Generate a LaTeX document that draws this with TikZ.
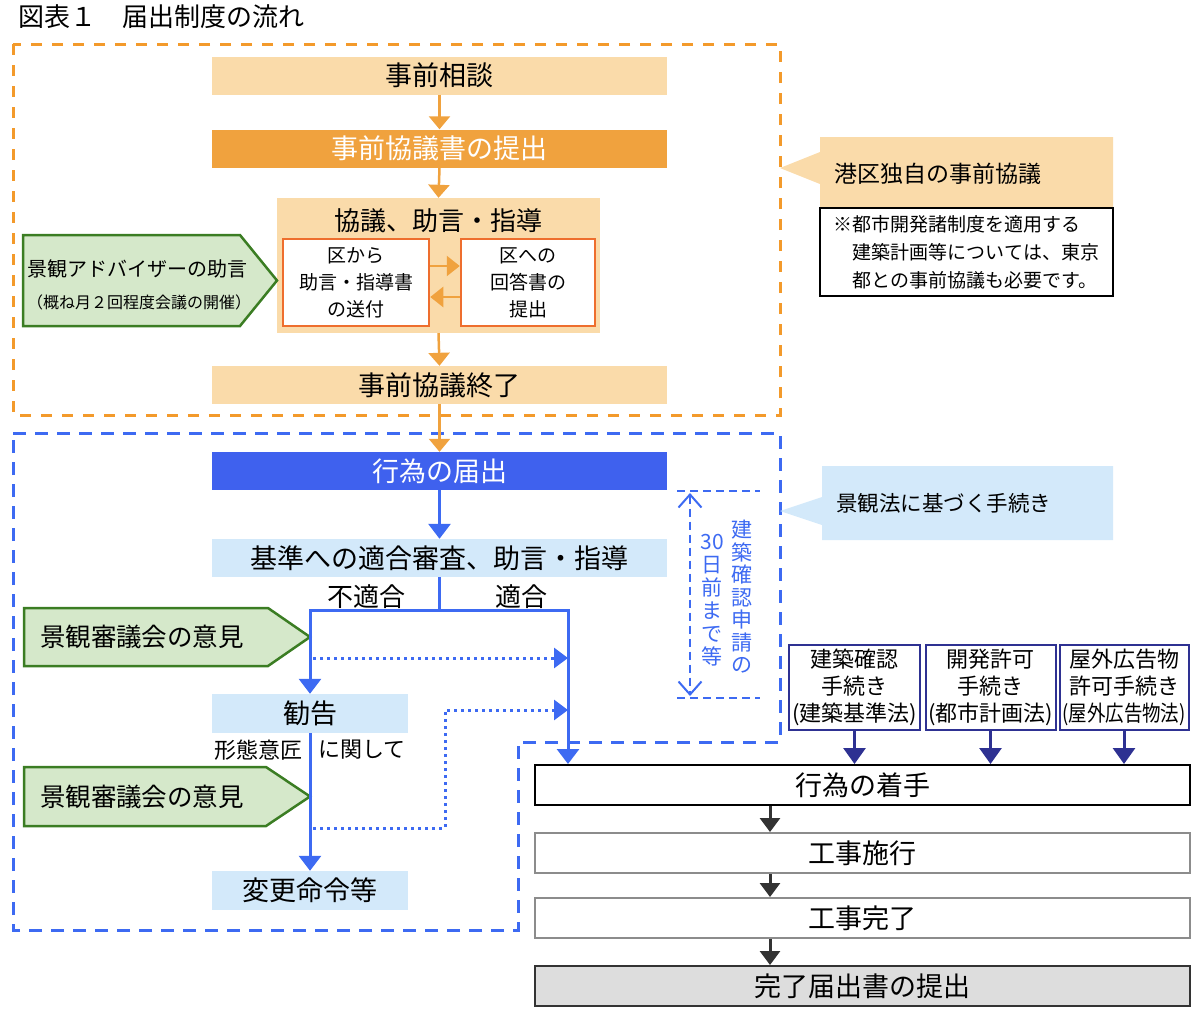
\documentclass[tikz,border=0pt]{standalone}
\usepackage{fontspec}
\setmainfont{Noto Sans CJK JP}
\usetikzlibrary{arrows.meta}
\definecolor{odash}{HTML}{F39A2B}
\definecolor{olight}{HTML}{FADBAA}
\definecolor{omid}{HTML}{F0A23E}
\definecolor{oborder}{HTML}{EE6E2E}
\definecolor{gfill}{HTML}{D5E8CA}
\definecolor{gline}{HTML}{3B7D23}
\definecolor{bline}{HTML}{3D6AF2}
\definecolor{bfill}{HTML}{3F61EE}
\definecolor{blight}{HTML}{D3E9FA}
\definecolor{navy}{HTML}{2E3192}
\definecolor{darkar}{HTML}{333333}
\definecolor{graybd}{HTML}{8C8C8C}
\definecolor{grayfill}{HTML}{DDDDDD}
\newcommand\fsz[2]{\fontsize{#1}{#2}\selectfont}
\begin{document}
\begin{tikzpicture}[x=1pt,y=-1pt,
  box/.style={inner sep=0pt, align=center, anchor=center},
  widebox/.style={box, minimum width=455pt, minimum height=38pt, font=\fsz{27}{31}},
  flowbox/.style={box, minimum width=655pt, minimum height=40pt, line width=2pt, fill=white, font=\fsz{27}{31}},
  navybox/.style={box, draw=navy, line width=2pt, fill=white, minimum height=85pt, font=\fsz{22}{27}},
  innerbox/.style={box, fill=white, draw=oborder, line width=2.5pt, minimum height=87pt, font=\fsz{19}{27}},
  oarr/.style={draw=omid, line width=2.5pt, -{Triangle[width=21pt,length=13pt]}},
  barr/.style={draw=bline, line width=3pt, -{Triangle[width=22pt,length=15pt]}},
  bln/.style={draw=bline, line width=3pt},
  bdot/.style={draw=bline, line width=3pt, dash pattern=on 3pt off 4pt, -{Triangle[width=20pt,length=14pt]}},
  narr/.style={draw=navy, line width=3pt, -{Triangle[width=22pt,length=16pt]}},
  darr/.style={draw=darkar, line width=3pt, -{Triangle[width=20pt,length=14pt]}},
  gshape/.style={fill=gfill, draw=gline, line width=2.5pt, line join=miter},
  odashed/.style={draw=odash, line width=3pt, dash pattern=on 11pt off 10pt},
  bdashed/.style={draw=bline, line width=3pt, dash pattern=on 13pt off 9pt},
  vdash/.style={draw=bline, line width=2pt, dash pattern=on 8pt off 5pt},
]
\useasboundingbox (0,0) rectangle (1200,1018);

% title
\node[anchor=west, inner sep=0pt, font=\fsz{26}{30}] (title) at (18,17) {図表１　届出制度の流れ};

% dashed regions
\draw[odashed] (13,44) rectangle (780,415);
\draw[bdashed] (13,433) -- (780,433) -- (780,742) -- (518,742) -- (518,930) -- (13,930) -- cycle;

% orange section
\node[widebox, fill=olight] (soudan) at (439.5,75.5) {事前相談};
\node[widebox, fill=omid, text=white] (teishutsu) at (439.5,148.5) {事前協議書の提出};
\node[box, fill=olight, minimum width=323pt, minimum height=135pt] (kyogi) at (438.5,265.5) {};
\node[inner sep=0pt, font=\fsz{26}{30}] (kyogit) at (438.5,221) {協議、助言・指導};
\node[innerbox, minimum width=146pt] (kara) at (356,282.5) {区から\\助言・指導書\\の送付};
\node[innerbox, minimum width=134pt] (kaito) at (528,282.5) {区への\\回答書の\\提出};
\node[widebox, fill=olight] (shuryo) at (439.5,385) {事前協議終了};

\draw[oarr] (soudan.south) -- (teishutsu.north);
\draw[oarr] (teishutsu.south) -- (kyogi.north);
\draw[oarr, -{Triangle[width=20pt,length=13pt]}] ([yshift=16.5pt]kara.east) -- ([yshift=16.5pt]kaito.west);
\draw[oarr, -{Triangle[width=20pt,length=13pt]}] ([yshift=-14.5pt]kaito.west) -- ([yshift=-14.5pt]kara.east);
\draw[oarr] (kyogi.south) -- (shuryo.north);

% green adviser
\draw[gshape] (23,235) -- (240,235) -- (277,280.5) -- (240,326) -- (23,326) -- cycle;
\node[anchor=west, inner sep=0pt, font=\fsz{20}{24}] (adv1) at (27,269) {景観アドバイザーの助言};
\node[anchor=west, inner sep=0pt, font=\fsz{16}{20}] (adv2) at (27,302) {（概ね月２回程度会議の開催）};

% orange callout
\fill[olight] (820,137) -- (1113,137) -- (1113,210) -- (820,210) -- (820,184) -- (780,168) -- (820,152) -- cycle;
\node[anchor=west, inner sep=0pt, font=\fsz{23}{27}] (minato) at (834,174) {港区独自の事前協議};
\node[box, draw=black, line width=1.5pt, fill=white, minimum width=293pt, minimum height=88pt, align=left, font=\fsz{19}{28}] (note) at (966.5,252)
  {※都市開発諸制度を適用する\\　建築計画等については、東京\\　都との事前協議も必要です。};

% blue section
\node[widebox, fill=bfill, text=white] (todokede) at (439.5,471) {行為の届出};
\draw[oarr] (shuryo.south) -- (todokede.north);
\node[widebox, fill=blight] (kijun) at (439.5,558) {基準への適合審査、助言・指導};
\draw[barr] (todokede.south) -- (kijun.north);

\node[box, fill=blight, minimum width=196pt, minimum height=39pt, font=\fsz{27}{31}] (kankoku) at (310,713.5) {勧告};
\node[box, fill=blight, minimum width=196pt, minimum height=39pt, font=\fsz{27}{31}] (henko) at (310,890.5) {変更命令等};

\node[inner sep=0pt, font=\fsz{26}{30}] (futeki) at (366,597) {不適合};
\node[inner sep=0pt, font=\fsz{26}{30}] (teki) at (521,597) {適合};
\node[inner sep=0pt, font=\fsz{22}{26}] (keitai) at (258,750) {形態意匠};
\node[inner sep=0pt, font=\fsz{22}{26}] (kanshite) at (362,750) {に関して};

% green opinions
\draw[gshape] (24,608) -- (268,608) -- (310,637) -- (268,666) -- (24,666) -- cycle;
\node[inner sep=0pt, font=\fsz{25.5}{30}] (shingi1) at (142,637) {景観審議会の意見};
\draw[gshape] (24,767) -- (266,767) -- (310,796.5) -- (266,826) -- (24,826) -- cycle;
\node[inner sep=0pt, font=\fsz{25.5}{30}] (shingi2) at (142,796.5) {景観審議会の意見};

% flow on the right
\node[flowbox, draw=black] (chakushu) at (862.5,785) {行為の着手};
\node[flowbox, draw=graybd] (sekou) at (862.5,853) {工事施行};
\node[flowbox, draw=graybd] (kanryo) at (862.5,918) {工事完了};
\node[flowbox, draw=darkar, fill=grayfill] (todoke) at (862.5,986) {完了届出書の提出};

% blue connectors
\coordinate (sp) at (439.5,610);
\coordinate (spL) at (310,610);
\coordinate (spR) at (568,610);
\draw[bln] (kijun.south) -- (sp);
\draw[bln, line cap=rect] (spL) -- (spR);
\draw[barr] (spL) -- (kankoku.north);
\draw[barr] (spR) -- (spR |- chakushu.north);
\draw[barr] (kankoku.south) -- (henko.north);

\coordinate (d1s) at (313,658);
\coordinate (d1e) at (568,658);
\draw[bdot] (d1s) -- (d1e);
\coordinate (d2s) at (313,828);
\coordinate (d2a) at (445,828);
\coordinate (d2b) at (445,710);
\coordinate (d2e) at (568,710);
\draw[bdot] (d2s) -- (d2a) -- (d2b) -- (d2e);

% 30-day indicator
\coordinate (hl1a) at (677,491);
\coordinate (hl1b) at (760,491);
\coordinate (hl2a) at (677,698);
\coordinate (hl2b) at (760,698);
\draw[vdash] (hl1a) -- (hl1b);
\draw[vdash] (hl2a) -- (hl2b);
\coordinate (va) at (690,493);
\coordinate (vb) at (690,696);
\draw[vdash, {Straight Barb[width=23pt,length=13pt]}-{Straight Barb[width=23pt,length=13pt]}] (va) -- (vb);
\node[inner sep=0pt, align=center, text=bline, font=\fsz{21}{23}] (v1) at (712,600) {30\\日\\前\\ま\\で\\等};
\node[inner sep=0pt, align=center, text=bline, font=\fsz{21}{22.5}] (v2) at (742,597) {建\\築\\確\\認\\申\\請\\の};

% blue callout
\fill[blight] (822,466) -- (1113,466) -- (1113,540) -- (822,540) -- (822,525) -- (780,511) -- (822,497) -- cycle;
\node[anchor=west, inner sep=0pt, font=\fsz{21.5}{25}] (keikanho) at (836,503) {景観法に基づく手続き};

% navy boxes
\node[navybox, minimum width=131pt] (nb1) at (854.5,687) {建築確認\\手続き\\(建築基準法)};
\node[navybox, minimum width=130pt] (nb2) at (990.5,687) {開発許可\\手続き\\(都市計画法)};
\node[navybox, minimum width=129pt] (nb3) at (1124,687) {屋外広告物\\許可手続き\\\scalebox{0.84}[1]{(屋外広告物法)}};
\draw[narr] (nb1.south) -- (nb1.south |- chakushu.north);
\draw[narr] (nb2.south) -- (nb2.south |- chakushu.north);
\draw[narr] (nb3.south) -- (nb3.south |- chakushu.north);

% dark arrows
\coordinate (ax) at (770,0);
\draw[darr] (chakushu.south -| ax) -- (sekou.north -| ax);
\draw[darr] (sekou.south -| ax) -- (kanryo.north -| ax);
\draw[darr] (kanryo.south -| ax) -- (todoke.north -| ax);
\end{tikzpicture}
\end{document}
